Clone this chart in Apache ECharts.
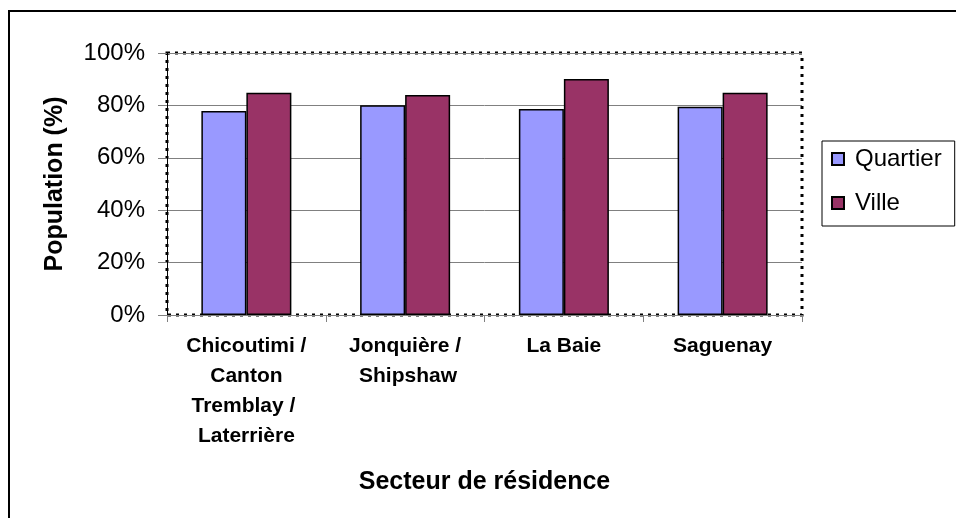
<!DOCTYPE html>
<html>
<head>
<meta charset="utf-8">
<script src="https://cdn.jsdelivr.net/npm/echarts@6/dist/echarts.min.js"></script>
<style>
  html, body { margin: 0; padding: 0; background: #fff; }
  #chart { width: 956px; height: 518px; }
</style>
</head>
<body>
<div id="chart"></div>
<script>
// secteurs de résidence
const categories = ['Chicoutimi / Canton Tremblay / Laterrière', 'Jonquière / Shipshaw', 'La Baie', 'Saguenay']
// population (%) par secteur
const quartier = [77.9, 80.1, 78.6, 79.5]
const ville = [84.8, 84.0, 90.1, 84.8]
const yTicks = [0, 20, 40, 60, 80, 100]

const font = 'Arial, "Liberation Sans", sans-serif'
const chart = echarts.init(document.getElementById('chart'))

const option = {
  backgroundColor: '#fff',
  animation: false,
  textStyle: { fontFamily: font, color: '#000' },
  // cadre extérieur (coupé à droite et en bas)
  graphic: [
    {
      type: 'rect',
      shape: { x: 9, y: 11, width: 1000, height: 600 },
      style: { fill: 'none', stroke: '#000', lineWidth: 2 },
      silent: true,
    },
  ],
  grid: {
    left: 167,
    right: 154,
    top: 53,
    bottom: 203,
    show: true,
    borderColor: '#000',
    borderWidth: 3,
    borderType: [3, 5],
  },
  legend: {
    orient: 'vertical',
    left: 822,
    top: 141,
    padding: [4, 13, 9, 9],
    itemGap: 16,
    itemWidth: 12,
    itemHeight: 12,
    icon: 'rect',
    borderColor: '#000',
    borderWidth: 1,
    textStyle: { fontSize: 24, fontFamily: font, color: '#000', lineHeight: 28, padding: [0, 0, 0, 6] },
    data: ['Quartier', 'Ville'],
  },
  xAxis: {
    type: 'category',
    data: categories,
    name: 'Secteur de résidence',
    nameLocation: 'middle',
    nameGap: 155,
    nameTextStyle: { fontSize: 25, fontWeight: 'bold', fontFamily: font },
    axisLine: { lineStyle: { color: '#808080', width: 1 } },
    axisTick: { show: true, alignWithLabel: false, length: 7, lineStyle: { color: '#808080' } },
    axisLabel: {
      interval: 0,
      margin: 16,
      fontSize: 21,
      fontWeight: 'bold',
      lineHeight: 30,
      width: 125,
      overflow: 'break',
      color: '#000',
    },
  },
  yAxis: {
    type: 'value',
    min: yTicks[0],
    max: yTicks[yTicks.length - 1],
    interval: yTicks[1] - yTicks[0],
    name: 'Population (%)',
    nameLocation: 'middle',
    nameRotate: 90,
    nameGap: 99,
    nameTextStyle: { fontSize: 25, fontWeight: 'bold', fontFamily: font },
    axisLine: { show: true, lineStyle: { color: '#000', width: 1 } },
    axisTick: { show: true, length: 9, lineStyle: { color: '#808080' } },
    axisLabel: { formatter: '{value}%', fontSize: 24, margin: 22, color: '#000' },
    splitLine: { show: true, lineStyle: { color: '#808080', width: 1 } },
  },
  series: [
    {
      name: 'Quartier',
      type: 'bar',
      data: quartier,
      barWidth: 45,
      barGap: '0%',
      itemStyle: { color: '#9999FF', borderColor: '#000', borderWidth: 1.5 },
    },
    {
      name: 'Ville',
      type: 'bar',
      data: ville,
      barWidth: 45,
      barGap: '0%',
      itemStyle: { color: '#993366', borderColor: '#000', borderWidth: 1.5 },
    },
  ],
}

chart.setOption(option)
</script>
</body>
</html>
